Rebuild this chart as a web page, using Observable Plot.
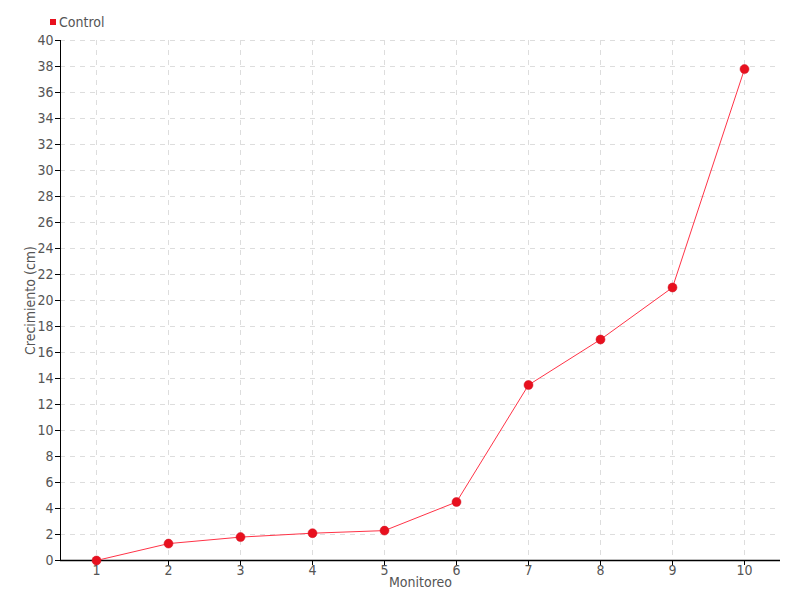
<!DOCTYPE html>
<html>
<head>
<meta charset="utf-8">
<script src="https://cdn.jsdelivr.net/npm/d3@7"></script>
<script src="https://cdn.jsdelivr.net/npm/@observablehq/plot@0.6"></script>
<style>
  body { margin: 0; background: #fff; font-family: "DejaVu Sans Condensed", "Liberation Sans Narrow", sans-serif; font-stretch: condensed; }
  #legend { height: 32px; position: relative; color: #555; font-size: 14px; }
  #legend .sw { position: absolute; left: 50px; top: 19px; width: 6px; height: 6px; background: #e8101e; }
  #legend .lb { position: absolute; left: 59px; top: 14px; line-height: 16px; }
  svg text { font-stretch: condensed; }
</style>
</head>
<body>
<div id="legend"><span class="sw"></span><span class="lb">Control</span></div>
<div id="chart"></div>
<script>
const monitoreo = [1, 2, 3, 4, 5, 6, 7, 8, 9, 10];
const control = [0, 1.3, 1.8, 2.1, 2.3, 4.5, 13.5, 17, 21, 37.8];
const yTicks = [0, 2, 4, 6, 8, 10, 12, 14, 16, 18, 20, 22, 24, 26, 28, 30, 32, 34, 36, 38, 40];
const seriesName = "Control";
const xLabel = "Monitoreo";
const yLabel = "Crecimiento (cm)";

const data = monitoreo.map((m, i) => ({m, v: control[i], s: seriesName}));

const chart = Plot.plot({
  width: 800,
  height: 568,
  marginTop: 8,
  marginBottom: 40,
  marginLeft: 60,
  marginRight: 20,
  style: {fontFamily: '"DejaVu Sans Condensed", "Liberation Sans Narrow", sans-serif', fontSize: "14px", color: "#555", background: "#fff"},
  x: {type: "point", domain: monitoreo, padding: 0.5},
  y: {domain: [0, 40]},
  marks: [
    Plot.gridY(yTicks, {stroke: "#ddd", strokeOpacity: 1, strokeDasharray: "5,5"}),
    Plot.gridX(monitoreo, {stroke: "#ddd", strokeOpacity: 1, strokeDasharray: "5,5"}),
    Plot.axisY({ticks: yTicks, tickSize: 5, tickPadding: 2, stroke: "#000", label: yLabel, labelAnchor: "center", labelArrow: "none", labelOffset: 35, fill: "#555"}),
    Plot.axisX({ticks: monitoreo, tickSize: 5, tickPadding: 0, stroke: "#000", label: xLabel, labelAnchor: "center", labelArrow: "none", labelOffset: 26, fill: "#555"}),
    Plot.frame({anchor: "left", stroke: "#000"}),
    Plot.ruleY([0], {stroke: "#000", strokeWidth: 1.5}),
    Plot.line(data, {x: "m", y: "v", stroke: "#ff3347", strokeWidth: 1}),
    Plot.dot(data, {x: "m", y: "v", r: 4.5, fill: "#e8101e", stroke: "#d01020", strokeWidth: 0.5})
  ]
});
document.getElementById("chart").appendChild(chart);
</script>
</body>
</html>
